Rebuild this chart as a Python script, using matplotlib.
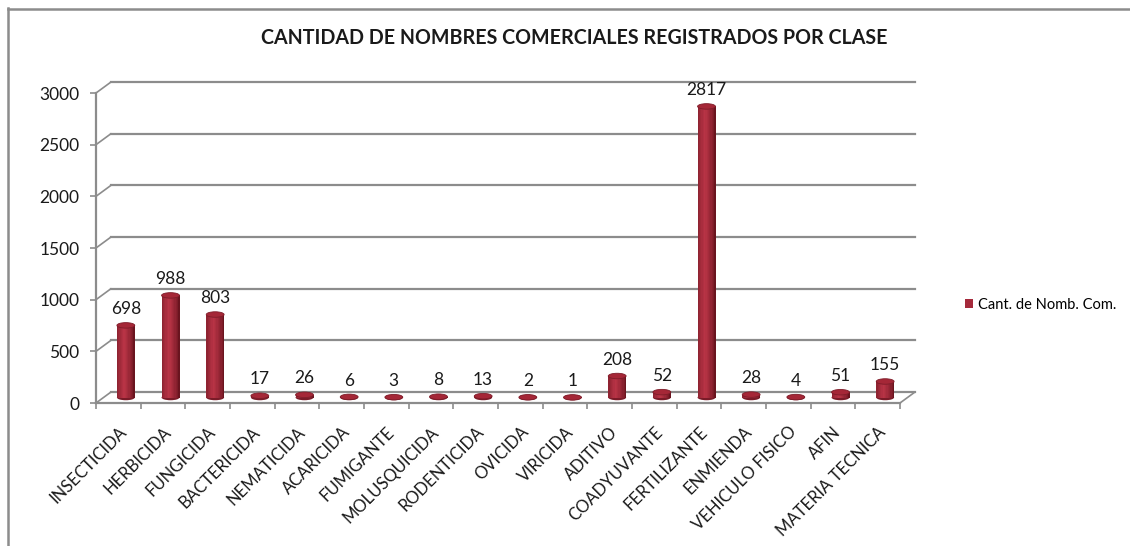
import numpy as np
import matplotlib
matplotlib.use("Agg")
import matplotlib.pyplot as plt
from matplotlib.patches import Ellipse, ConnectionPatch, Patch
from matplotlib.lines import Line2D
from matplotlib.transforms import offset_copy

# =====================================================================
# DATOS
# =====================================================================
clases = ["INSECTICIDA", "HERBICIDA", "FUNGICIDA", "BACTERICIDA", "NEMATICIDA",
          "ACARICIDA", "FUMIGANTE", "MOLUSQUICIDA", "RODENTICIDA", "OVICIDA",
          "VIRICIDA", "ADITIVO", "COADYUVANTE", "FERTILIZANTE", "ENMIENDA",
          "VEHICULO FISICO", "AFIN", "MATERIA TECNICA"]
cantidades = [698, 988, 803, 17, 26, 6, 3, 8, 13, 2, 1, 208, 52, 2817, 28, 4, 51, 155]
ticks_y = [0, 500, 1000, 1500, 2000, 2500, 3000]

titulo = "CANTIDAD DE NOMBRES COMERCIALES REGISTRADOS POR CLASE"
serie = "Cant. de Nomb. Com."

# =====================================================================
# ESTILO
# =====================================================================
plt.rcParams['font.family'] = ['Lato', 'DejaVu Sans']
GRIS = '#8c8c8c'
TEXTO = '#1a1a1a'
ROJO_OSC = '#6a141f'
ROJO_MED = '#a52a3b'
ROJO_CLARO = '#b93446'

W, H = 1130, 546
fig = plt.figure(figsize=(W / 100, H / 100), dpi=100)
fig.patch.set_facecolor('white')

# plano frontal del grafico 3D
ax = fig.add_axes([96 / W, (H - 403) / H, (900 - 96) / W, (403 - 93) / H])
ax.set_xlim(-0.5, len(clases) - 0.5)
ax.set_ylim(0, 3000)
ax.patch.set_alpha(0)

# desplazamientos de profundidad (pared del fondo y centro de los cilindros)
trans_fondo = offset_copy(ax.transData, fig=fig, x=15, y=11, units='dots')
trans_medio = offset_copy(ax.transData, fig=fig, x=7.5, y=5.5, units='dots')

x_ini, x_fin = -0.5, len(clases) - 0.5

# lineas de la pared del fondo + diagonales de la pared lateral
for v in ticks_y:
    ax.plot([x_ini, x_fin], [v, v], color=GRIS, lw=1.6, transform=trans_fondo,
            clip_on=False, zorder=1)
    con = ConnectionPatch((x_ini, v), (x_ini, v), coordsA=ax.transData,
                          coordsB=trans_fondo, color=GRIS, lw=1.2, zorder=1)
    ax.add_artist(con)

# borde derecho del piso
con = ConnectionPatch((x_fin, 0), (x_fin, 0), coordsA=ax.transData,
                      coordsB=trans_fondo, color=GRIS, lw=1.2, zorder=1)
ax.add_artist(con)

# =====================================================================
# CILINDROS
# =====================================================================
ancho = 0.40
alto_elipse = 5.5 * 3000 / 310  # ~5.5 px en unidades de datos
n_tiras = 14
pos = np.linspace(0, 1, n_tiras)
# sombreado: oscuro en los bordes, claro un poco a la izquierda del centro
brillo = np.clip(1 - np.abs(pos - 0.4) / 0.6, 0, 1) ** 0.7
c_osc = np.array(matplotlib.colors.to_rgb(ROJO_OSC))
c_cla = np.array(matplotlib.colors.to_rgb(ROJO_CLARO))
colores_tiras = [tuple(c_osc + (c_cla - c_osc) * b) for b in brillo]

for i, v in enumerate(cantidades):
    # base
    ax.add_patch(Ellipse((i, 0), ancho, alto_elipse, facecolor='#7a1b28',
                         edgecolor='none', transform=trans_medio, zorder=3))
    # cuerpo
    w_tira = ancho / n_tiras
    for k in range(n_tiras):
        x0 = i - ancho / 2 + k * w_tira
        ax.bar(x0, v, width=w_tira * 1.08, bottom=0, align='edge',
               color=colores_tiras[k], linewidth=0, transform=trans_medio,
               zorder=4)
    # tapa
    ax.add_patch(Ellipse((i, v), ancho, alto_elipse, facecolor='#a52737',
                         edgecolor='#7e1c29', lw=0.6, transform=trans_medio,
                         zorder=5))
    # etiqueta de valor
    ax.annotate(str(v), (i, v), xycoords=trans_medio, xytext=(0, 6),
                textcoords='offset points', ha='center', va='bottom',
                fontsize=12.5, color=TEXTO, zorder=6)

# =====================================================================
# EJES
# =====================================================================
for lado in ['top', 'right']:
    ax.spines[lado].set_visible(False)
for lado in ['left', 'bottom']:
    ax.spines[lado].set_color(GRIS)
    ax.spines[lado].set_linewidth(1.6)

ax.set_yticks(ticks_y)
ax.set_yticklabels([str(t) for t in ticks_y])
ax.tick_params(axis='y', length=4, width=1.2, color=GRIS, labelsize=12.5,
               labelcolor=TEXTO, pad=8)

ax.set_xticks(range(len(clases)))
ax.set_xticklabels(clases, rotation=45, ha='right', va='top',
                   rotation_mode='anchor')
ax.set_xticks(np.arange(-0.5, len(clases)), minor=True)
ax.tick_params(axis='x', which='major', length=0, labelsize=12,
               labelcolor=TEXTO, pad=15)
ax.tick_params(axis='x', which='minor', length=4.5, width=1.2, color=GRIS)

# titulo
fig.text(574 / W, 1 - 38 / H, titulo, ha='center', va='center',
         fontsize=14.1, fontweight='bold', color=TEXTO)

# leyenda
fig.legend(handles=[Patch(facecolor=ROJO_MED, edgecolor='none', label=serie)],
           loc='center left', bbox_to_anchor=(965 / W, 1 - 305 / H),
           frameon=False, fontsize=10.5, handlelength=0.55, handleheight=0.55,
           handletextpad=0.35, borderaxespad=0, borderpad=0)

# marco exterior
fig.add_artist(Line2D([8 / W, 8 / W], [0, 1 - 8 / H], color=GRIS, lw=1.8,
                      transform=fig.transFigure))
fig.add_artist(Line2D([8 / W, 1], [1 - 8.5 / H, 1 - 8.5 / H], color=GRIS,
                      lw=1.8, transform=fig.transFigure))

fig.savefig("out.png", dpi=100, facecolor='white')
